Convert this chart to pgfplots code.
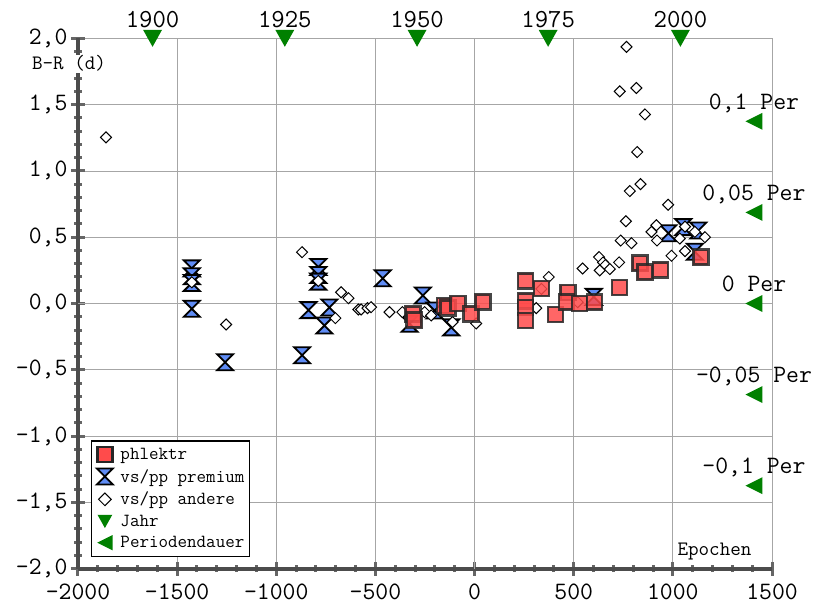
\documentclass[border=0pt]{standalone}
\usepackage{fontspec}
\usepackage{pgfplots}
\pgfplotsset{compat=1.18}
\usetikzlibrary{calc}

\definecolor{redfill}{RGB}{255,75,75}
\definecolor{bluefill}{RGB}{95,140,245}
\definecolor{jgreen}{RGB}{0,128,0}

\pgfdeclareplotmark{hourglass}{%
  \pgfpathmoveto{\pgfqpoint{-8pt}{8pt}}%
  \pgfpathlineto{\pgfqpoint{8pt}{8pt}}%
  \pgfpathlineto{\pgfqpoint{-8pt}{-8pt}}%
  \pgfpathlineto{\pgfqpoint{8pt}{-8pt}}%
  \pgfpathclose
  \pgfusepathqfillstroke}
\pgfdeclareplotmark{dia}{%
  \pgfpathmoveto{\pgfqpoint{0pt}{5.5pt}}%
  \pgfpathlineto{\pgfqpoint{5.5pt}{0pt}}%
  \pgfpathlineto{\pgfqpoint{0pt}{-5.5pt}}%
  \pgfpathlineto{\pgfqpoint{-5.5pt}{0pt}}%
  \pgfpathclose
  \pgfusepathqfillstroke}
\pgfdeclareplotmark{sq}{%
  \pgfpathrectanglecorners{\pgfqpoint{-7.5pt}{-7.5pt}}{\pgfqpoint{7.5pt}{7.5pt}}%
  \pgfusepathqfillstroke}
\pgfdeclareplotmark{tridown}{%
  \pgfpathmoveto{\pgfqpoint{-9.5pt}{8.5pt}}%
  \pgfpathlineto{\pgfqpoint{9.5pt}{8.5pt}}%
  \pgfpathlineto{\pgfqpoint{0pt}{-8.5pt}}%
  \pgfpathclose
  \pgfusepathqfill}
\pgfdeclareplotmark{trileft}{%
  \pgfpathmoveto{\pgfqpoint{-8.5pt}{0pt}}%
  \pgfpathlineto{\pgfqpoint{8.5pt}{8.5pt}}%
  \pgfpathlineto{\pgfqpoint{8.5pt}{-8.5pt}}%
  \pgfpathclose
  \pgfusepathqfill}

\pgfplotstableread{
x y
-311 -0.078
-305 -0.125
-152 -0.015
-135 -0.033
-84 0.0
-17 -0.078
42 0.012
258 0.17
258 0.02
258 -0.03
258 -0.13
337 0.113
409 -0.083
470 0.083
463 0.01
530 0.0
606 0.01
732 0.12
833 0.304
859 0.236
938 0.254
1141 0.35
}\phlektr

\pgfplotstableread{
x y
-1426 0.265
-1426 0.205
-1426 0.155
-1426 -0.04
-1258 -0.443
-870 -0.39
-788 0.275
-788 0.215
-788 0.165
-838 -0.05
-732 -0.03
-757 -0.166
-463 0.19
-261 0.06
-328 -0.153
-118 -0.18
-202 -0.053
601 0.05
977 0.53
1052 0.576
1128 0.55
1111 0.39
}\premium

\pgfplotstableread{
x y
-1859 1.253
-1426 0.16
-1253 -0.158
-870 0.387
-788 0.17
-673 0.085
-636 0.04
-586 -0.045
-572 -0.045
-540 -0.035
-702 -0.11
-522 -0.028
-429 -0.065
-364 -0.065
-252 -0.065
-219 -0.09
-111 -0.14
8 -0.15
311 -0.035
337 0.11
374 0.2
520 0.01
545 0.264
628 0.35
648 0.31
660 0.29
682 0.26
631 0.25
729 0.31
737 0.475
791 0.455
763 0.62
783 0.848
837 0.90
820 1.142
859 1.426
732 1.60
816 1.625
766 1.935
892 0.54
917 0.59
920 0.475
976 0.745
993 0.36
1035 0.49
1061 0.395
1162 0.50
1061 0.58
1111 0.54
}\andere

\begin{document}
\begin{tikzpicture}
\begin{axis}[
  scale only axis, width=694pt, height=530.4pt,
  xmin=-2000, xmax=1500, ymin=-2, ymax=2,
  clip=false,
  axis x line=bottom, axis y line=left,
  axis line style={-, line width=4pt, draw=black!70},
  xtick={-2000,-1500,...,1500}, ytick={-2,-1.5,...,2},
  minor x tick num=4, minor y tick num=4,
  grid=major, major grid style={draw=black!35, line width=0.8pt},
  tick align=center,
  major tick length=14pt, minor tick length=7pt,
  every tick/.style={draw=black!60, line width=3pt},
  extra x ticks={0}, extra y ticks={0},
  extra x tick labels={}, extra y tick labels={},
  extra tick style={grid style={draw=black!50, line width=3pt}, major tick length=0pt},
  /pgf/number format/assume math mode=true,
  ticklabel style={font=\ttfamily\fontsize{25}{25}\selectfont},
  yticklabel style={/pgf/number format/.cd, fixed, fixed zerofill, precision=1, use comma},
  xticklabel style={yshift=-5pt, /pgf/number format/.cd, 1000 sep={}},
  legend style={at={(0,0)}, anchor=south west, xshift=12.7pt, yshift=12pt,
    font=\ttfamily\fontsize{18.5}{20}\selectfont, draw=black, line width=1.2pt,
    fill=white, row sep=4.5pt, inner xsep=3pt, inner ysep=5pt},
  legend cell align=left,
  legend image code/.code={\path (0pt,0pt) (23pt,0pt); \draw[#1] plot coordinates {(10pt,0pt)};},
]
\addlegendimage{only marks, mark=sq, mark options={fill=redfill, draw=black!85, line width=2.5pt}}
\addlegendentry{phlektr}
\addlegendimage{only marks, mark=hourglass, mark options={fill=bluefill, draw=black, line width=1.8pt}}
\addlegendentry{vs/pp premium}
\addlegendimage{only marks, mark=dia, mark options={fill=white, draw=black, line width=1pt, scale=1.15}}
\addlegendentry{vs/pp andere}
\addlegendimage{only marks, mark=tridown, mark options={fill=jgreen, scale=0.78}}
\addlegendentry{Jahr}
\addlegendimage{only marks, mark=trileft, mark options={fill=jgreen, scale=0.9}}
\addlegendentry{Periodendauer}

\addplot[only marks, mark=hourglass, forget plot, mark options={fill=bluefill, draw=black, line width=1.8pt}] table[x=x,y=y] {\premium};
\addplot[only marks, mark=dia, forget plot, mark options={fill=white, draw=black, line width=1pt}] table[x=x,y=y] {\andere};
\addplot[only marks, mark=sq, forget plot, mark options={fill=redfill, draw=black!85, line width=2.5pt, opacity=0.85}] table[x=x,y=y] {\phlektr};

\addplot[only marks, mark=tridown, forget plot, mark options={fill=jgreen},
  nodes near coords, point meta=explicit symbolic,
  every node near coord/.style={anchor=base, yshift=11pt, inner sep=0pt, font=\ttfamily\fontsize{26}{26}\selectfont, text=black}]
  coordinates {(-1624,2) [1900] (-957,2) [1925] (-290,2) [1950] (371,2) [1975] (1038,2) [2000]};
\addplot[only marks, mark=trileft, forget plot, mark options={fill=jgreen},
  nodes near coords, point meta=explicit symbolic,
  every node near coord/.style={anchor=base, yshift=12pt, inner sep=0pt, font=\ttfamily\fontsize{25}{25}\selectfont, text=black}]
  coordinates {(1409,1.374) [0,1 Per] (1409,0.687) [0,05 Per] (1409,0) [0 Per] (1409,-0.687) [-0,05 Per] (1409,-1.374) [-0,1 Per]};

\node[anchor=base, fill=white, inner sep=1pt, font=\ttfamily\fontsize{20.5}{20.5}\selectfont] at ($(rel axis cs:0,1)+(-9pt,-31.7pt)$) {B-R (d)};
\node[anchor=base, fill=white, inner sep=1pt, font=\ttfamily\fontsize{20.5}{20.5}\selectfont] at ($(rel axis cs:1,0)+(-57.5pt,13.7pt)$) {Epochen};
\coordinate (sw) at (rel axis cs:0,0);
\coordinate (ne) at (rel axis cs:1,1);
\end{axis}
\pgfresetboundingbox
\path ($(sw)+(-78pt,-36.3pt)$) rectangle ($(ne)+(43pt,38.3pt)$);
\end{tikzpicture}
\end{document}
